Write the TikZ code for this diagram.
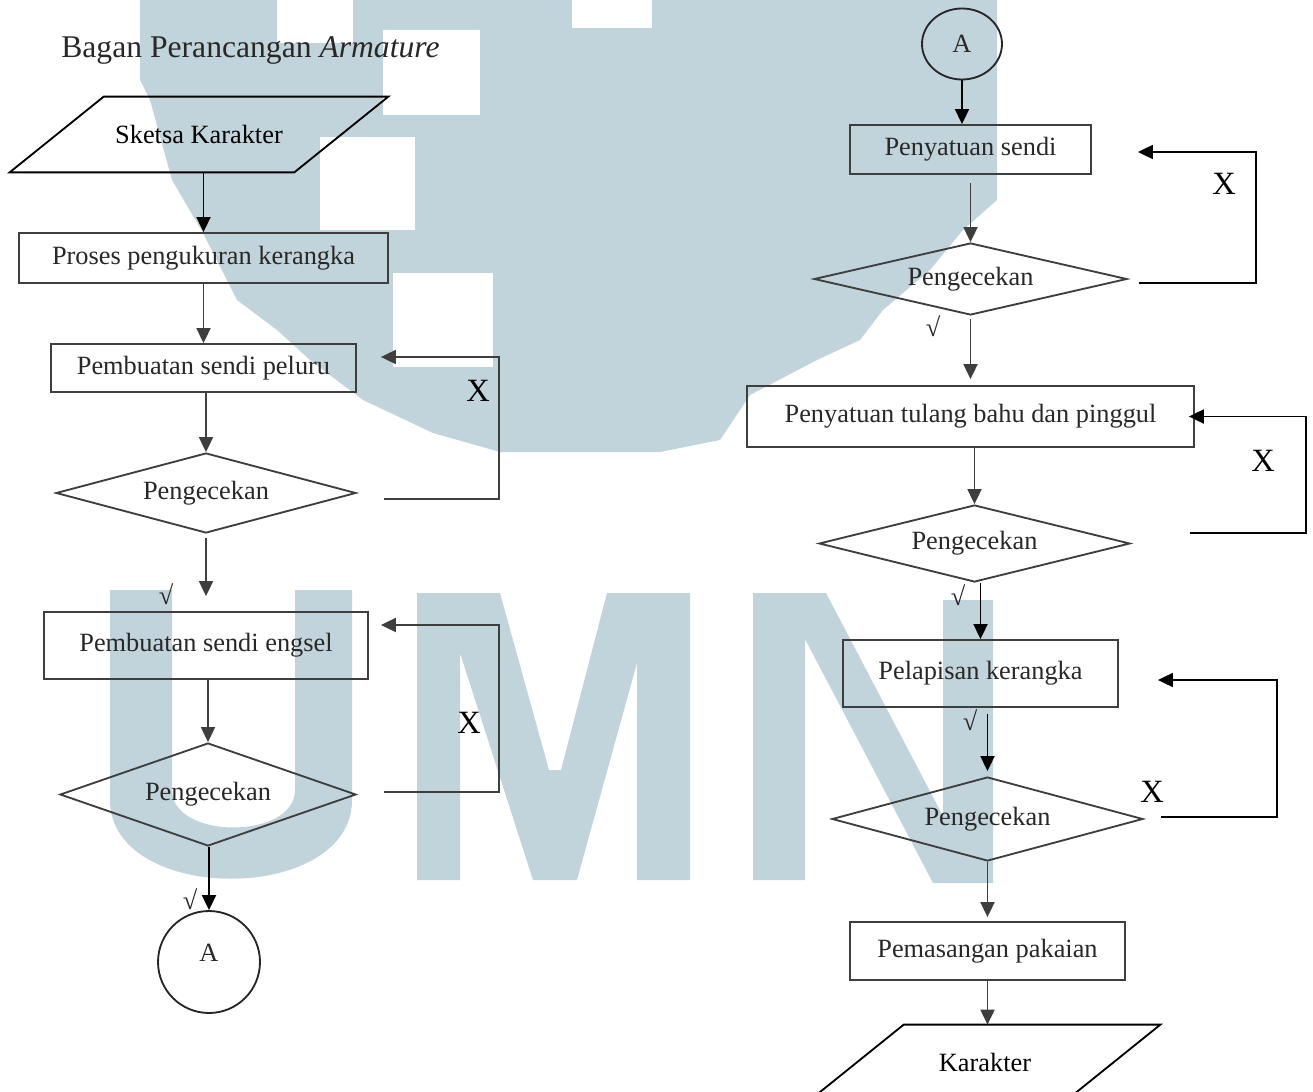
\documentclass[tikz,border=0pt]{standalone}
\usepackage{fontspec}
\setmainfont{Liberation Serif}
\usetikzlibrary{arrows.meta,positioning,shapes.geometric}
\definecolor{wmblue}{RGB}{194,212,219}
\definecolor{linegray}{RGB}{62,62,62}
\definecolor{txtgray}{RGB}{40,40,40}

\begin{document}
\begin{tikzpicture}[
    x=0.02cm, y=-0.02cm,
    box/.style={rectangle, draw=linegray, line width=1.05pt, inner sep=0pt, text=txtgray, font=\fontsize{15}{18}\selectfont},
    decision/.style={diamond, draw=linegray, line width=1.05pt, inner sep=0pt, text=txtgray, font=\fontsize{15}{18}\selectfont},
    io/.style={rectangle, inner sep=0pt, minimum height=1.5cm, font=\fontsize{15}{18}\selectfont},
    ioline/.style={draw=black, line width=1.05pt, line join=miter},
    connector/.style={draw=black!85, line width=1.05pt, inner sep=0pt, text=txtgray, font=\fontsize{15}{18}\selectfont},
    arrow/.style={-{Triangle[length=0.3cm, width=0.28cm]}, line width=1.05pt, linegray},
    darrow/.style={arrow, black},
    xtext/.style={inner sep=0pt, font=\fontsize{18.5}{20}\selectfont},
    cktext/.style={inner sep=0pt, text=txtgray, font=\fontsize{15}{18}\selectfont}
]
\useasboundingbox (0,0) rectangle (1313,1092);
\clip (0,0) rectangle (1313,1092);

% Watermark in the background
\fill[wmblue] (140,0) -- (997,0) -- (997,200) -- (963,230) -- (930,270) -- (883,310) -- (860,340)
    -- (817,360) -- (750,395) -- (720,440) -- (660,452) -- (500,452) -- (433,433) -- (363,400)
    -- (310,360) -- (277,330) -- (237,300) -- (203,233) -- (172,180) -- (150,100) -- (140,80) -- cycle;
\fill[white] (277,0) rectangle (353,43);
\fill[white] (572,0) rectangle (652,28);
\fill[white] (383,30) rectangle (480,115);
\fill[white] (320,137) rectangle (415,230);
\fill[white] (393,273) rectangle (493,367);
\fill[wmblue] (110,590) -- (172,590) -- (172,790) .. controls (172,840) and (295,840) .. (295,790)
    -- (295,590) -- (352,590) -- (352,800) .. controls (352,905) and (110,905) .. (110,800) -- cycle;
\fill[wmblue] (417,593) -- (500,593) -- (549,770) -- (561,770) -- (607,593) -- (690,593) -- (690,880)
    -- (637,880) -- (637,663) -- (577,880) -- (533,880) -- (460,653) -- (460,880) -- (417,880) -- cycle;
\fill[wmblue] (753,593) -- (826,593) -- (943,816) -- (943,600) -- (993,600) -- (993,883) -- (933,883)
    -- (805,639) -- (805,880) -- (753,880) -- cycle;

% Title
\node[anchor=base west, inner sep=0pt, text=txtgray, font=\fontsize{18}{20}\selectfont] (judul) at (61,57) {Bagan Perancangan \textit{Armature}};

% Column 1: bones and joints
\node[io, minimum width=7.56cm] (sketsa) at (199,134.5) {Sketsa Karakter};
\draw[ioline] ([shift={(94,0)}]sketsa.north west) -- (sketsa.north east)
    -- ([shift={(-94,0)}]sketsa.south east) -- (sketsa.south west) -- cycle;
\node[box, minimum width=7.38cm, minimum height=1.0cm] (ukur) at (203.5,258) {Proses pengukuran kerangka};
\node[box, minimum width=6.1cm, minimum height=0.96cm] (peluru) at (203.5,368) {Pembuatan sendi peluru};
\node[decision, aspect=3.75, minimum width=6cm, minimum height=1.6cm] (cek1) at (206,493) {Pengecekan};
\node[box, minimum width=6.48cm, minimum height=1.34cm] (engsel) at (206,645.5) {Pembuatan sendi engsel};
\node[decision, aspect=2.87, minimum width=5.92cm, minimum height=2.06cm] (cek2) at (208,794.5) {Pengecekan};
\node[connector, circle, minimum size=2.04cm, text depth=0.35cm] (konA) at (209,962) {A};

% Column 2: assembly
\node[connector, ellipse, minimum width=1.6cm, minimum height=1.42cm] (konB) at (962,44) {A};
\node[box, minimum width=4.82cm, minimum height=0.98cm] (sendi) at (970.5,149.5) {Penyatuan sendi};
\node[decision, aspect=4.35, minimum width=6.26cm, minimum height=1.44cm] (cek3) at (970.5,279) {Pengecekan};
\node[box, minimum width=8.94cm, minimum height=1.22cm] (bahu) at (970.5,416.5) {Penyatuan tulang bahu dan pinggul};
\node[decision, aspect=4.04, minimum width=6.22cm, minimum height=1.54cm] (cek4) at (974.5,543.5) {Pengecekan};
\node[box, minimum width=5.5cm, minimum height=1.34cm] (lapis) at (980.5,673.5) {Pelapisan kerangka};
\node[decision, aspect=3.7, minimum width=6.22cm, minimum height=1.68cm] (cek5) at (987.5,819) {Pengecekan};
\node[box, minimum width=5.5cm, minimum height=1.16cm] (pakai) at (987.5,951) {Pemasangan pakaian};
\node[io, minimum width=7cm] (hasil) at (985,1062.5) {Karakter};
\draw[ioline] ([shift={(94,0)}]hasil.north west) -- (hasil.north east)
    -- ([shift={(-94,0)}]hasil.south east) -- (hasil.south west) -- cycle;

% Main flow
\draw[darrow] (sketsa.south -| ukur.north) -- (ukur.north);
\draw[arrow] (ukur) -- (peluru);
\draw[arrow] (peluru.south -| cek1.north) -- (cek1.north);
\draw[arrow, shorten <=0.08cm, shorten >=0.3cm] (cek1) -- (engsel);
\draw[arrow] (engsel.south -| cek2.north) -- (cek2.north);
\draw[darrow] (cek2.south -| konA.north) -- (konA.north);
\draw[darrow] (konB.south) -- (konB.south |- sendi.north);
\draw[arrow, shorten <=0.16cm] (sendi) -- (cek3);
\draw[arrow, shorten <=0.06cm, shorten >=0.12cm] (cek3) -- (bahu);
\draw[arrow] (bahu.south -| cek4.north) -- (cek4.north);
\draw[darrow] (cek4.south -| lapis.north) -- (lapis.north);
\draw[darrow, shorten <=0.12cm, shorten >=0.1cm] (lapis.south -| cek5.north) -- (cek5.north);
\draw[arrow, shorten >=0.08cm] (cek5) -- (pakai);
\draw[arrow] (pakai.south) -- (pakai.south |- hasil.north);

% Loops back when the check fails
\draw[arrow] ([shift={(27,6)}]cek1.east) -- ++(115,0) |- ([shift={(24,-11)}]peluru.east);
\draw[arrow] ([shift={(27,-2.5)}]cek2.east) -- ++(115,0) |- ([shift={(12,-20.5)}]engsel.east);
\draw[darrow] ([shift={(11,4)}]cek3.east) -- ++(117,0) |- ([shift={(46,2.5)}]sendi.east);
\draw[darrow] ([shift={(59,-10.5)}]cek4.east) -- ++(116,0) |- ([shift={(-6,0)}]bahu.east);
\draw[darrow] ([shift={(17,-2)}]cek5.east) -- ++(116,0) |- ([shift={(39,6.5)}]lapis.east);

% Labels
\node[xtext] (x1) at (478,391) {X};
\node[xtext] (x2) at (469,723) {X};
\node[xtext] (x3) at (1224,184) {X};
\node[xtext] (x4) at (1263,461) {X};
\node[xtext] (x5) at (1152,792) {X};
\node[cktext] (ok1) at (166,594) {√};
\node[cktext] (ok2) at (190,899) {√};
\node[cktext] (ok3) at (933,326) {√};
\node[cktext] (ok4) at (958,595) {√};
\node[cktext] (ok5) at (970,720) {√};

\end{tikzpicture}
\end{document}
